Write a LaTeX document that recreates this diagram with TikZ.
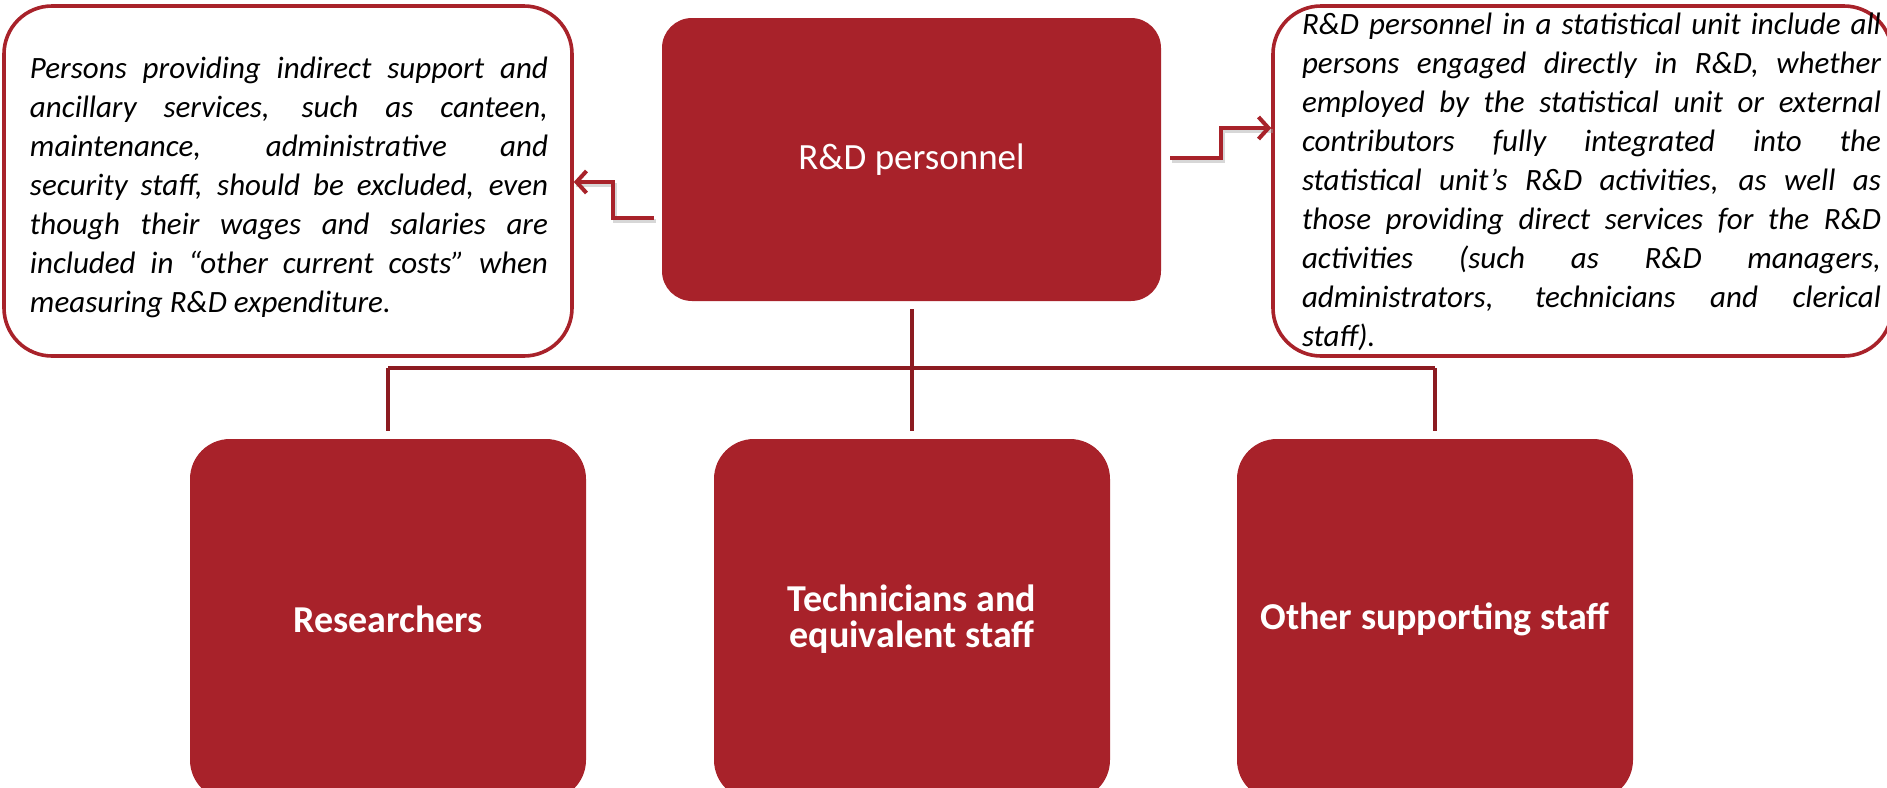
\documentclass[tikz,border=0pt]{standalone}
\usepackage{fontspec}
\setmainfont{Carlito}
\usetikzlibrary{arrows.meta,calc}
\definecolor{boxred}{RGB}{168,34,42}
\definecolor{linered}{RGB}{140,27,33}
\tikzset{
  redbox/.style={fill=boxred, draw=none, rounded corners=15pt, text=white, align=center, inner sep=0pt},
  catbox/.style={redbox, rounded corners=20pt, minimum width=198pt, minimum height=180.5pt,
    font=\fontsize{19}{18}\selectfont\bfseries},
  notebox/.style={draw=boxred, line width=1.8pt, rounded corners=24pt, fill=white, inner sep=0pt},
  notetext/.style={font=\fontsize{15.5}{19.5}\selectfont\itshape, align=justify, inner sep=0pt},
  treeline/.style={draw=linered, line width=2pt},
  arrowline/.style={draw=boxred, line width=2pt, -{Straight Barb[length=5pt,width=11pt]}},
  shadowline/.style={draw=black!35, line width=2pt, opacity=0.45,
    transform canvas={shift={(1pt,-1.5pt)}}},
}
\begin{document}
\begin{tikzpicture}[x=0.5pt,y=-0.5pt]
\useasboundingbox (0,0) rectangle (1887,788);

% top level box
\node[redbox, minimum width=249.5pt, minimum height=141.5pt,
  font=\fontsize{18.5}{22}\selectfont] (rd) at (911.5,159.5) {R\&D personnel};

% note boxes and their texts
\node[notebox, minimum width=284pt, minimum height=175pt] (lnote) at (288,181) {};
\node[notetext, text width=259pt] (ltext) at (289,187)
  {Persons providing indirect support and\linebreak
   ancillary services, such as canteen,\linebreak
   maintenance, administrative and\linebreak
   security staff, should be excluded, even\linebreak
   though their wages and salaries are\linebreak
   included in “other current costs” when\linebreak
   measuring R\&D expenditure.};

\node[notebox, minimum width=309.5pt, minimum height=175pt] (rnote) at (1582.5,181) {};
\node[notetext, text width=289.5pt] (rtext) at (1591.5,182)
  {R\&D personnel in a statistical unit include all\linebreak
   persons engaged directly in R\&D, whether\linebreak
   employed by the statistical unit or external\linebreak
   contributors fully integrated into the\linebreak
   statistical unit’s R\&D activities, as well as\linebreak
   those providing direct services for the R\&D\linebreak
   activities (such as R\&D managers,\linebreak
   administrators, technicians and clerical\linebreak
   staff).};

% category boxes
\node[catbox] (res) at (388,619.5) {Researchers};
\node[catbox] (tech) at (912,619.5) {Technicians and\\equivalent staff};
\node[catbox] (oth) at (1435,619.5) {Other supporting staff};

% tree connectors
\coordinate (bar) at (0,368);
\draw[treeline, shorten <=4pt, shorten >=4pt] (rd.south) -- (rd.south |- tech.north);
\draw[treeline] (res.north |- bar) -- (oth.north |- bar);
\draw[treeline, shorten >=4pt] (res.north |- bar) -- (res.north);
\draw[treeline, shorten >=4pt] (oth.north |- bar) -- (oth.north);

% stepped arrows to the notes
\coordinate (lstep) at (613,182);
\coordinate (rstep) at (1221,128);
\draw[shadowline, shorten <=4pt] (rd.west |- 0,218) -| (lstep) -- (lstep -| lnote.east);
\draw[arrowline, shorten <=4pt] (rd.west |- 0,218) -| (lstep) -- (lstep -| lnote.east);
\draw[shadowline, shorten <=4.5pt] (rd.east |- 0,158) -| (rstep) -- (rstep -| rnote.west);
\draw[arrowline, shorten <=4.5pt] (rd.east |- 0,158) -| (rstep) -- (rstep -| rnote.west);
\end{tikzpicture}
\end{document}
